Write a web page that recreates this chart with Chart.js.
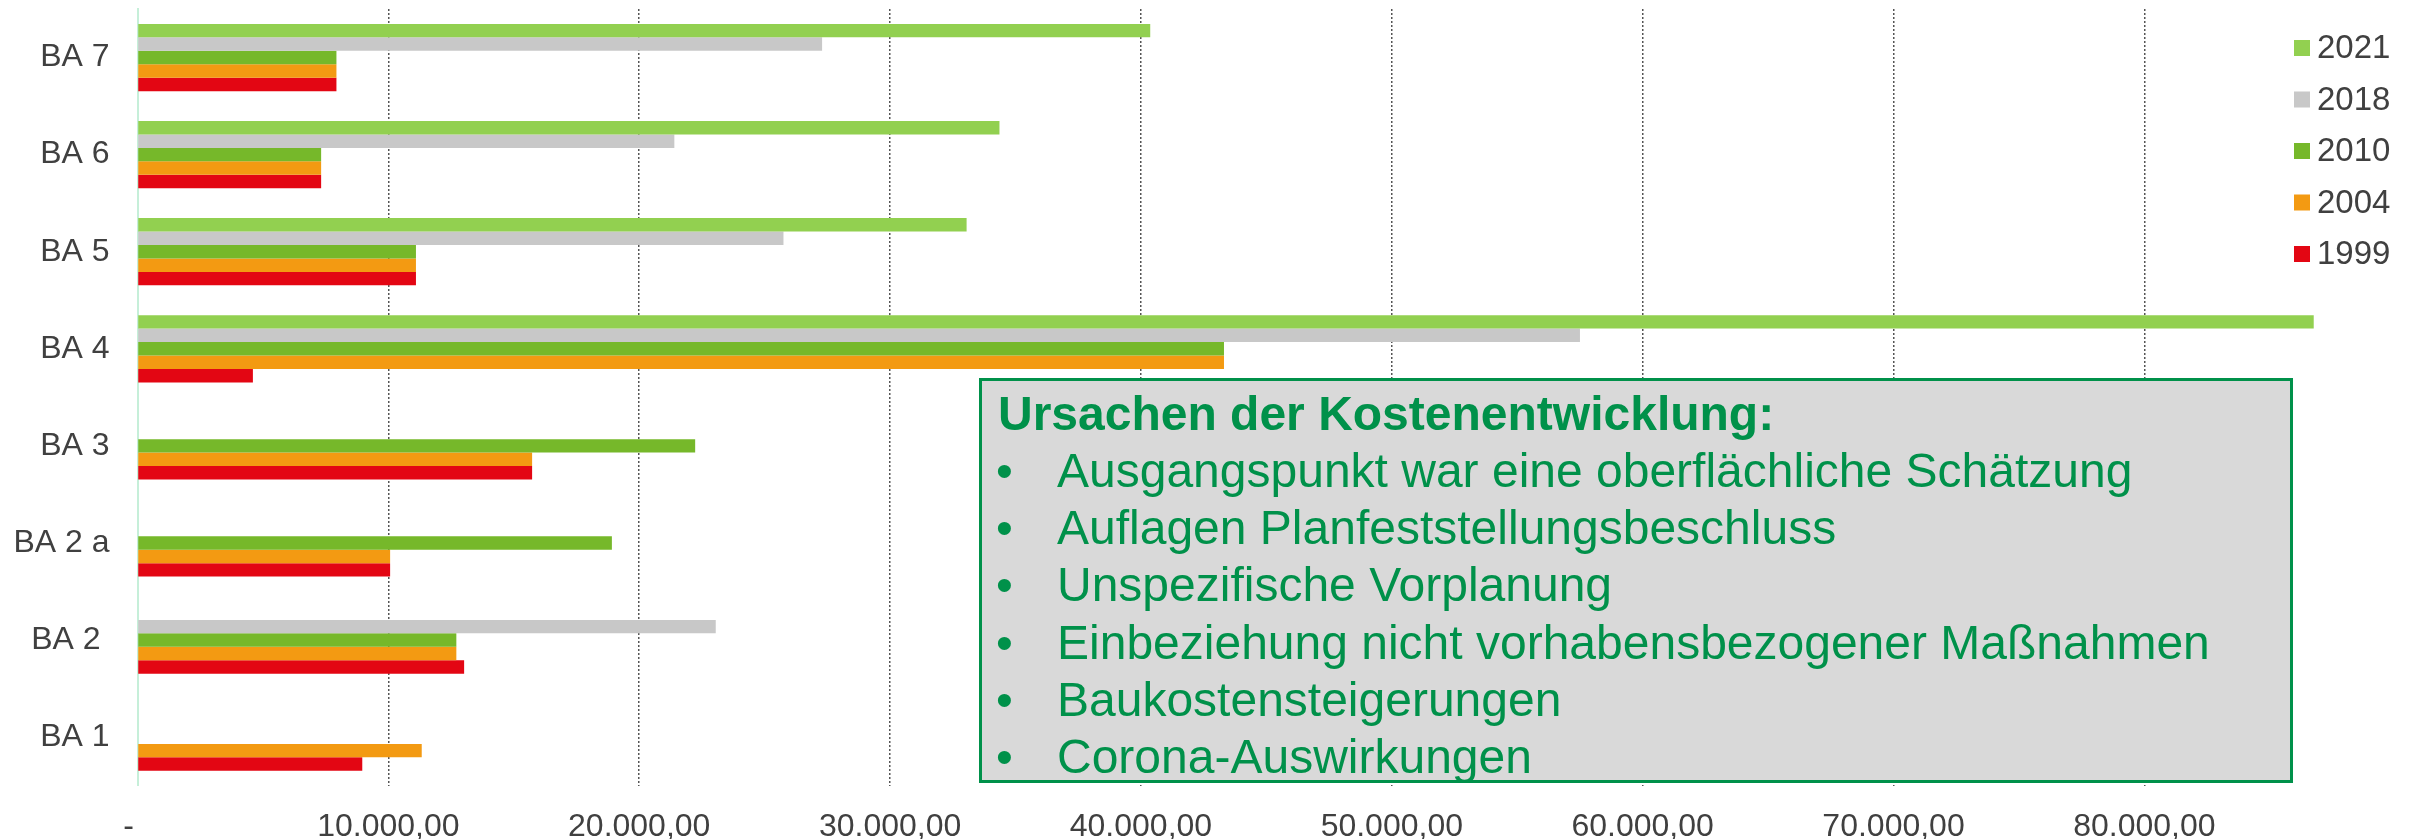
<!DOCTYPE html>
<html>
<head>
<meta charset="utf-8">
<script src="https://cdn.jsdelivr.net/npm/chart.js@4/dist/chart.umd.min.js"></script>
<style>
  html, body { margin: 0; padding: 0; background: #ffffff; }
  #wrap { position: relative; width: 2415px; height: 839px; overflow: hidden; }
  #c { position: absolute; left: 0; top: 0; }
  #box {
    position: absolute; left: 979px; top: 378px; width: 1308px; height: 399px;
    background: #d9d9d9; border: 3px solid #00914a;
    font-family: "Liberation Sans", Arial, sans-serif; color: #00914a;
  }
  #box .ln { position: absolute; white-space: nowrap; font-size: 48px; line-height: 57px; }
  #box .title { font-weight: bold; }
  #box .bul { position: absolute; left: 14px; }
  #box .txt { position: absolute; left: 75px; }
</style>
</head>
<body>
<div id="wrap">
  <canvas id="c" width="2415" height="839"></canvas>
  <div id="box"></div>
</div>
<script>
// ---- data ----
const categories = ['BA 7', 'BA 6', 'BA 5', 'BA 4', 'BA 3', 'BA 2 a', 'BA 2 ', 'BA 1'];
const seriesNames = ['2021', '2018', '2010', '2004', '1999'];
const values2021 = [40370, 34360, 33050, 86750, null, null, null, null];
const values2018 = [27290, 21400, 25750, 57500, null, null, 23050, null];
const values2010 = [7930, 7320, 11100, 43310, 22230, 18910, 12710, null];
const values2004 = [7930, 7320, 11100, 43310, 15730, 10070, 12710, 11330];
const values1999 = [7930, 7320, 11100, 4600, 15730, 10070, 13020, 8960];
const xTicks = [0, 10000, 20000, 30000, 40000, 50000, 60000, 70000, 80000];
const xMax = 87000;
const boxTitle = 'Ursachen der Kostenentwicklung:';
const boxBullets = [
  'Ausgangspunkt war eine oberflächliche Schätzung',
  'Auflagen Planfeststellungsbeschluss',
  'Unspezifische Vorplanung',
  'Einbeziehung nicht vorhabensbezogener Maßnahmen',
  'Baukostensteigerungen',
  'Corona-Auswirkungen'
];

// ---- styles ----
const colors = ['#92d050', '#c8c8c8', '#76b82a', '#f39a12', '#e30613'];
const allValues = [values2021, values2018, values2010, values2004, values1999];
const FONT = '"Liberation Sans", Arial, sans-serif';
const TXT = '#404040';

function fmtDE(v) {
  if (v === 0) return '-  ';
  const s = Math.round(v).toString().replace(/\B(?=(\d{3})+(?!\d))/g, '.');
  return s + ',00';
}

const legendPlugin = {
  id: 'customLegend',
  afterDraw(chart) {
    const ctx = chart.ctx;
    ctx.save();
    ctx.font = '33px ' + FONT;
    ctx.textBaseline = 'middle';
    ctx.textAlign = 'left';
    chart.data.datasets.forEach((ds, i) => {
      const cy = 48 + i * 51.5;
      ctx.fillStyle = ds.backgroundColor;
      ctx.fillRect(2294, cy - 8, 16, 16);
      ctx.fillStyle = TXT;
      ctx.fillText(ds.label, 2317, cy + 1);
    });
    ctx.restore();
  }
};

const chart = new Chart(document.getElementById('c'), {
  type: 'bar',
  data: {
    labels: categories,
    datasets: seriesNames.map((n, i) => ({
      label: n,
      data: allValues[i],
      backgroundColor: colors[i],
      borderWidth: 0,
      categoryPercentage: 0.693,
      barPercentage: 1.0
    }))
  },
  options: {
    indexAxis: 'y',
    responsive: false,
    animation: false,
    devicePixelRatio: 1,
    layout: { padding: { left: 0, top: 9, right: 95, bottom: 0 } },
    plugins: { legend: { display: false }, tooltip: { enabled: false } },
    scales: {
      x: {
        type: 'linear',
        min: 0,
        max: xMax,
        afterFit(s) { s.height = 53.3; s.paddingLeft = 0; s.paddingRight = 0; },
        afterBuildTicks(s) { s.ticks = xTicks.map(v => ({ value: v })); },
        ticks: {
          padding: 22,
          color: TXT,
          font: { family: FONT, size: 32 },
          maxRotation: 0,
          autoSkip: false,
          callback: (v) => fmtDE(v)
        },
        grid: {
          drawTicks: false,
          lineWidth: 1.5,
          color: (c) => (c.tick && c.tick.value === 0) ? 'rgba(0,0,0,0)' : '#555555'
        },
        border: { display: false, dash: [2, 2] }
      },
      y: {
        afterFit(s) { s.width = 137.5; s.paddingTop = 0; s.paddingBottom = 0; },
        ticks: {
          padding: 28,
          color: TXT,
          font: { family: FONT, size: 32 }
        },
        grid: { display: false, drawTicks: false },
        border: { display: true, color: '#c6efd9', width: 2 }
      }
    }
  },
  plugins: [legendPlugin]
});

// text box
const box = document.getElementById('box');
const lineH = 57.3;
const firstCenter = 413 - 381;
function addLine(cls, idx) {
  const d = document.createElement('div');
  d.className = 'ln ' + cls;
  d.style.top = (firstCenter + idx * lineH - 28.5) + 'px';
  d.style.left = '0px';
  d.style.width = '100%';
  box.appendChild(d);
  return d;
}
const t = addLine('title', 0);
t.style.left = '16px';
t.textContent = boxTitle;
boxBullets.forEach((b, i) => {
  const d = addLine('', i + 1);
  const bu = document.createElement('span'); bu.className = 'bul'; bu.textContent = '•';
  const tx = document.createElement('span'); tx.className = 'txt'; tx.textContent = b;
  d.appendChild(bu); d.appendChild(tx);
});
</script>
</body>
</html>
